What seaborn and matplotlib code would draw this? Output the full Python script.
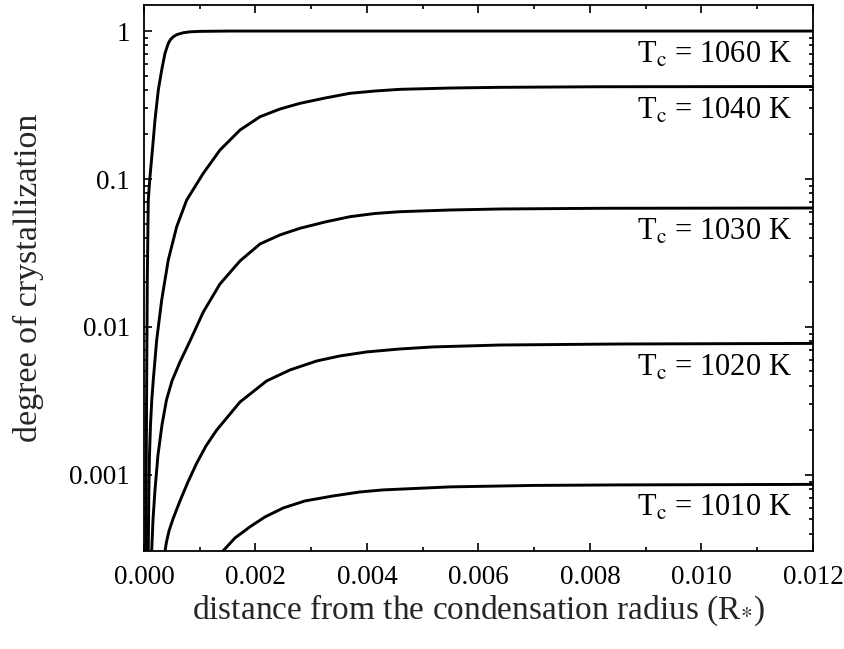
import numpy as np
import pandas as pd
import matplotlib
matplotlib.use("Agg")
import matplotlib.pyplot as plt
import matplotlib.ticker as mticker
import seaborn as sns

# values (x in R*, y = degree of crystallization)
x_1060 = [0.0000323, 0.0000484, 0.0000592, 0.0000771, 0.0001076, 0.0001561, 0.0001973,
          0.0002565, 0.0003175, 0.0003767, 0.0004359, 0.0004753, 0.0005256, 0.0005919,
          0.0007049, 0.0008251, 0.0010045, 0.0015426, 0.012]
y_1060 = [0.000306, 0.00439, 0.0208, 0.0721, 0.1037, 0.165, 0.2506,
          0.399, 0.545, 0.707, 0.826, 0.876, 0.915, 0.947,
          0.974, 0.988, 0.995, 1.0, 1.0]

x_1040 = [0.0000771, 0.0000861, 0.0000987, 0.0001166, 0.0001399, 0.0001668, 0.0002278,
          0.0003175, 0.0004359, 0.0005865, 0.0007659, 0.0010637, 0.0013632, 0.001722,
          0.0020807, 0.0024394, 0.0027982, 0.0032466, 0.0036951, 0.0041435, 0.0045919,
          0.0054888, 0.0063857, 0.0081794, 0.012]
y_1040 = [0.000306, 0.000733, 0.001365, 0.002178, 0.003214, 0.00439, 0.00817,
          0.0152, 0.0284, 0.0476, 0.0721, 0.1093, 0.157, 0.2143,
          0.2636, 0.2972, 0.3247, 0.3526, 0.3795, 0.3933, 0.4037,
          0.412, 0.4165, 0.4203, 0.4217]

x_1030 = [0.0001381, 0.0001614, 0.0001973, 0.0002511, 0.0003229, 0.0004036, 0.0005022,
          0.0006457, 0.0008251, 0.0010637, 0.0013632, 0.001722, 0.0020807, 0.0024394,
          0.0027982, 0.0032466, 0.0036951, 0.0041435, 0.0045919, 0.0054888, 0.0063857,
          0.0081794, 0.012]
y_1030 = [0.000306, 0.000497, 0.000792, 0.001365, 0.002178, 0.003214, 0.004317,
          0.005802, 0.008039, 0.01262, 0.01953, 0.02792, 0.03639, 0.04188,
          0.04645, 0.05122, 0.05563, 0.05847, 0.06012, 0.06173, 0.06271,
          0.06339, 0.06368]

x_1020 = [0.0003767, 0.0004036, 0.0004484, 0.0005202, 0.0006457, 0.0007892, 0.0009453,
          0.0011121, 0.001304, 0.001722, 0.0022009, 0.0026188, 0.0030977, 0.0035157,
          0.0039946, 0.0045919, 0.0051892, 0.0063857, 0.0085381, 0.012]
y_1020 = [0.000306, 0.000352, 0.000418, 0.000504, 0.000667, 0.000897, 0.0012,
          0.00157, 0.00201, 0.00311, 0.00432, 0.00512, 0.00589, 0.00637,
          0.00678, 0.0071, 0.00733, 0.00755, 0.00767, 0.00774]

x_1010 = [0.001417, 0.0016323, 0.0019013, 0.0021704, 0.0024987, 0.0028879, 0.0033955,
          0.0038744, 0.0042923, 0.0054888, 0.0069775, 0.0085381, 0.012]
y_1010 = [0.000306, 0.000375, 0.000446, 0.00052, 0.000598, 0.000667, 0.000721,
          0.000767, 0.000792, 0.00083, 0.000849, 0.000856, 0.000863]

temps = [1060, 1040, 1030, 1020, 1010]
xs = [x_1060, x_1040, x_1030, x_1020, x_1010]
ys = [y_1060, y_1040, y_1030, y_1020, y_1010]

sns.set_theme(style="ticks")
plt.rcParams['font.family'] = ['Liberation Serif', 'DejaVu Serif']
plt.rcParams['mathtext.fontset'] = 'stix'

fig = plt.figure(figsize=(8.45, 6.49), dpi=100)
ax = fig.add_axes([0.1704, 0.151, 0.7917, 0.8413])

for t, x, y in zip(temps, xs, ys):
    df = pd.DataFrame({'x': x, 'y': y})
    sns.lineplot(data=df, x='x', y='y', ax=ax, color='black', lw=2.1,
                 sort=False, estimator=None)
    # label sits just under the plateau, right aligned
    ax.text(0.01162, y[-1] * 0.86, r'T$_{\rm c}$ = %d K' % t, ha='right', va='top',
            fontsize=22, color='black')

ax.set_yscale('log')
ax.set_xlim(0, 0.012)
ax.set_ylim(3.06e-4, 1.5)

ax.xaxis.set_major_locator(mticker.MultipleLocator(0.002))
ax.xaxis.set_minor_locator(mticker.MultipleLocator(0.001))
ax.xaxis.set_major_formatter(mticker.FormatStrFormatter('%.3f'))
ax.set_yticks([0.001, 0.01, 0.1, 1])
ax.set_yticklabels(['0.001', '0.01', '0.1', '1'])
ax.yaxis.set_minor_locator(mticker.LogLocator(base=10, subs=np.arange(2, 10)))
ax.yaxis.set_minor_formatter(mticker.NullFormatter())

ax.tick_params(which='both', direction='in', top=True, right=True, colors='black',
               width=1.2, labelsize=19.5)
ax.tick_params(which='major', length=5.5, pad=10)
ax.tick_params(which='minor', length=3.2)
for s in ax.spines.values():
    s.set_linewidth(1.3)
    s.set_color('black')

ax.set_xlabel(r'distance from the condensation radius (R$_{*}$)', fontsize=24, va='top')
ax.set_ylabel('degree of crystallization', fontsize=24.5)
ax.xaxis.set_label_coords(0.5, -0.076)
ax.yaxis.set_label_coords(-0.15, 0.5)

fig.savefig('out.png', dpi=100)
